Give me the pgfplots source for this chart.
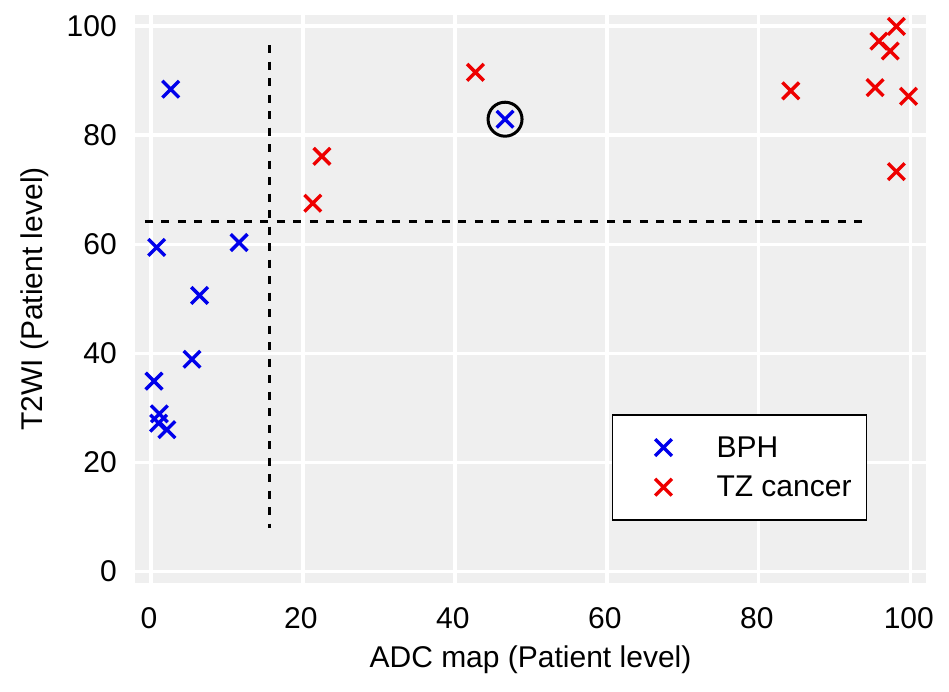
\documentclass[border=0pt]{standalone}
\usepackage{fontspec}
\setmainfont{Liberation Sans}
\usepackage{pgfplots}
\pgfplotsset{compat=1.18}
\definecolor{bgc}{RGB}{239,239,239}
\definecolor{myblue}{RGB}{0,0,235}
\definecolor{myred}{RGB}{238,0,0}
\newcommand{\bigf}{\fontsize{30}{35}\selectfont}
\begin{document}
\begin{tikzpicture}
\useasboundingbox (0,0) rectangle (949pt,691pt);
\begin{axis}[
  at={(135pt,108pt)}, anchor=south west,
  scale only axis, width=791pt, height=568pt,
  xmin=-2.1, xmax=102, ymin=-2.1, ymax=102,
  xtick={0,20,...,100}, ytick={0,20,...,100},
  /pgf/number format/assume math mode=true,
  axis background/.style={fill=bgc},
  axis line style={draw=none},
  tick style={draw=none},
  grid=major,
  grid style={white, line width=3.3pt},
  ticklabel style={font=\bigf},
  xticklabel style={inner sep=0pt, anchor=north, yshift=-24pt, xshift=-2pt},
  yticklabel style={inner sep=0pt, anchor=east, xshift=-18pt},
  xlabel={ADC map (Patient level)},
  ylabel={T2WI (Patient level)},
  label style={font=\bigf},
  xlabel style={at={(axis description cs:0.5,-0.1100)}, anchor=north, inner sep=0pt},
  ylabel style={at={(axis description cs:-0.1090,0.5)}, anchor=south, inner sep=0pt},
  legend style={at={(rel axis cs:0.6027,0.2975)}, anchor=north west,
    draw=black, line width=1.5pt, fill=white, inner xsep=0pt, inner ysep=13pt,
    font=\bigf, nodes={inner sep=0pt}},
  legend cell align=left,
  legend image code/.code={\path[draw=none,fill=none] (-51pt,-19.8pt) rectangle (53pt,19.8pt); \draw[#1] plot coordinates {(0pt,0pt)};},
]
\addplot[only marks, mark=x, mark size=11.8pt, myblue, mark options={line width=3.4pt}] coordinates {
(2.6,88.4) (0.75,59.4) (11.6,60.3) (6.4,50.6) (5.4,38.9) (0.4,34.9)
(1.1,28.9) (1.0,27.2) (2.1,26.0) (46.6,82.9)
};
\addlegendentry{BPH}
\addplot[only marks, mark=x, mark size=11.8pt, myred, mark options={line width=3.4pt}] coordinates {
(22.5,76.1) (21.3,67.5) (42.7,91.5) (84.2,88.1) (98.1,99.9) (95.8,97.2)
(97.3,95.4) (95.3,88.7) (99.7,87.1) (98.1,73.3)
};
\addlegendentry{TZ cancer\hspace*{15pt}}
\addplot[forget plot, black, line width=2.8pt, dash pattern=on 8pt off 8.5pt] coordinates {(-0.8,64.1) (93.7,64.1)};
\addplot[forget plot, black, line width=2.8pt, dash pattern=on 8pt off 8.5pt] coordinates {(15.6,96.5) (15.6,7.9)};
\addplot[forget plot, only marks, mark=o, mark size=17pt, black, mark options={line width=3pt}] coordinates {(46.6,82.9)};
\end{axis}
\end{tikzpicture}
\end{document}
